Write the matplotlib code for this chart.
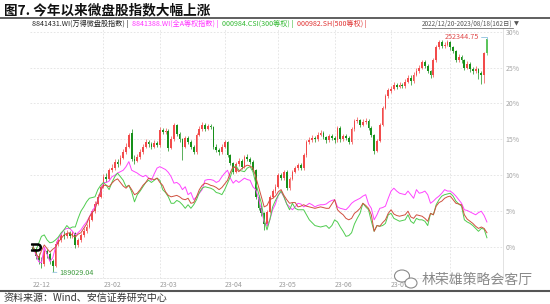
import numpy as np
import matplotlib
matplotlib.use("Agg")
import matplotlib.pyplot as plt
from matplotlib.lines import Line2D
from matplotlib.patches import Ellipse
from matplotlib.transforms import IdentityTransform

plt.rcParams['font.family'] = ['Noto Sans CJK SC', 'DejaVu Sans']

# ---- data (percent change since 2022-12-20, one value per trading day) ----
# 8841431.WI 万得微盘股指数, daily candles
opens = [0.0, -0.3, -1.2, -1.8, -2.4, -0.6, -1.0, -2.0, -2.6, 0.4,
         1.0, 1.7, 1.5, 2.0, 1.6, 1.9, 0.3, 1.0, 1.7, 2.2,
         2.8, 3.8, 5.0, 6.0, 7.0, 8.4, 9.8, 9.5, 10.7, 11.0,
         11.9, 11.6, 12.4, 13.2, 14.0, 15.9, 12.2, 12.0, 12.5, 13.2,
         14.0, 14.6, 14.3, 14.0, 14.5, 14.2, 16.3, 16.0, 16.2, 13.8,
         15.0, 17.0, 15.8, 15.0, 14.0, 15.2, 14.6, 14.0, 13.2, 15.6,
         16.4, 17.0, 16.5, 16.8, 16.7, 14.0, 13.5, 13.2, 14.0, 14.6,
         12.8, 11.7, 10.5, 11.5, 12.0, 11.2, 12.5, 12.3, 11.9, 10.7,
         7.0, 5.5, 4.7, 3.2, 4.9, 7.0, 7.8, 8.4, 10.0, 9.6,
         10.5, 8.2, 9.5, 10.5, 11.0, 11.4, 11.0, 12.8, 14.6, 14.9,
         15.2, 15.0, 15.6, 15.9, 15.3, 14.9, 15.5, 15.2, 14.9, 16.6,
         15.0, 15.4, 15.2, 14.6, 16.4, 17.6, 17.7, 17.0, 17.4, 17.6,
         16.6, 15.6, 13.4, 14.8, 17.0, 19.4, 21.0, 21.8, 22.0, 22.6,
         22.3, 22.6, 22.4, 23.0, 23.6, 23.1, 24.0, 24.5, 25.0, 25.7,
         25.2, 24.5, 23.9, 26.0, 27.8, 28.5, 28.0, 28.2, 28.5, 27.8,
         27.3, 26.0, 26.5, 26.0, 25.0, 25.5, 24.8, 24.5, 24.8, 24.3,
         23.9, 28.9]
closes = [-0.3, -1.2, -1.8, -2.4, -0.6, -1.0, -2.0, -2.6, 0.4, 1.0,
          1.7, 1.5, 2.0, 1.6, 1.9, 0.3, 1.0, 1.7, 2.2, 2.8,
          3.8, 5.0, 6.0, 7.0, 8.4, 9.8, 9.5, 10.7, 11.0, 11.9,
          11.6, 12.4, 13.2, 14.0, 15.6, 12.2, 12.0, 12.5, 13.2, 14.0,
          14.6, 14.3, 14.0, 14.5, 14.2, 16.3, 16.0, 16.2, 13.8, 15.0,
          17.0, 15.8, 15.0, 14.0, 15.2, 14.6, 14.0, 13.2, 15.6, 16.4,
          17.0, 16.5, 16.8, 16.7, 14.0, 13.5, 13.2, 14.0, 14.6, 12.8,
          11.7, 10.5, 11.5, 12.0, 11.2, 12.5, 12.3, 11.9, 10.7, 7.0,
          5.5, 4.7, 3.2, 4.9, 7.0, 7.8, 8.4, 10.0, 9.6, 10.5,
          8.2, 9.5, 10.5, 11.0, 11.4, 11.0, 12.8, 14.6, 14.9, 15.2,
          15.0, 15.6, 15.9, 15.3, 14.9, 15.5, 15.2, 14.9, 16.6, 15.0,
          15.4, 15.2, 14.6, 16.4, 17.6, 17.7, 17.0, 17.4, 17.6, 16.6,
          15.6, 13.4, 14.8, 17.0, 19.4, 21.0, 21.8, 22.0, 22.6, 22.3,
          22.6, 22.4, 23.0, 23.6, 23.1, 24.0, 24.5, 25.0, 25.7, 25.2,
          24.5, 23.9, 26.0, 27.8, 28.5, 28.0, 28.2, 28.5, 27.8, 27.3,
          26.0, 26.5, 26.0, 25.0, 25.5, 24.8, 24.5, 24.8, 24.3, 23.9,
          27.0, 27.0]
highs = [0.4, 0.0, -0.8, -1.4, -0.2, -0.2, -0.7, -1.6, 0.8, 1.4,
         2.1, 2.2, 2.4, 2.3, 2.3, 2.1, 1.3, 2.0, 2.6, 3.2,
         4.2, 5.3, 6.4, 7.4, 8.7, 10.2, 10.3, 11.0, 11.5, 12.3,
         12.2, 12.8, 13.6, 14.5, 15.9, 16.4, 12.8, 12.9, 13.6, 14.3,
         15.0, 14.9, 14.6, 14.9, 14.8, 16.7, 16.6, 16.6, 16.4, 15.4,
         17.3, 17.2, 16.0, 15.2, 15.5, 15.5, 14.9, 14.2, 15.9, 16.8,
         17.4, 17.3, 17.2, 17.1, 16.9, 14.3, 13.8, 14.3, 14.9, 14.8,
         13.0, 11.9, 11.8, 12.4, 12.2, 12.8, 12.9, 12.6, 12.1, 10.9,
         7.2, 5.8, 4.9, 5.2, 7.3, 8.1, 8.8, 10.3, 10.3, 10.8,
         10.7, 9.8, 10.8, 11.3, 11.7, 11.7, 13.1, 14.9, 15.3, 15.6,
         15.5, 16.0, 16.3, 16.1, 15.5, 15.8, 15.7, 15.4, 16.9, 16.8,
         15.7, 15.7, 15.4, 16.7, 17.9, 18.1, 17.9, 17.8, 18.0, 17.8,
         16.8, 15.8, 15.1, 17.3, 19.7, 21.3, 22.2, 22.4, 23.0, 22.9,
         23.0, 22.9, 23.4, 24.0, 23.9, 24.4, 24.9, 25.4, 26.1, 26.0,
         25.5, 24.7, 26.3, 28.1, 28.8, 28.8, 28.6, 28.8, 28.7, 28.0,
         27.5, 26.9, 26.8, 26.2, 25.9, 25.8, 25.1, 25.2, 25.0, 24.5,
         27.2, 28.9]
lows = [-0.6, -1.6, -2.3, -2.9, -2.6, -1.5, -2.4, -3.5, -2.8, 0.1,
        0.7, 1.1, 1.2, 1.2, 1.3, -0.1, 0.0, 0.7, 1.4, 1.9,
        2.6, 3.6, 4.8, 5.8, 6.8, 8.2, 9.1, 9.3, 10.4, 10.8,
        11.2, 11.4, 12.2, 13.0, 13.8, 12.0, 11.6, 11.8, 12.3, 13.0,
        13.8, 14.0, 13.6, 13.8, 13.9, 14.0, 15.7, 15.8, 13.4, 13.6,
        14.8, 15.5, 14.7, 12.1, 13.8, 14.3, 13.7, 12.9, 13.0, 15.4,
        16.2, 16.2, 16.3, 16.4, 13.7, 13.2, 12.8, 13.0, 13.8, 12.5,
        11.4, 10.2, 10.3, 11.3, 10.9, 11.0, 12.0, 11.6, 10.4, 6.7,
        5.1, 4.3, 2.4, 3.0, 4.7, 6.8, 7.6, 8.2, 9.3, 9.4,
        7.9, 8.0, 9.3, 10.3, 10.8, 10.7, 10.8, 12.6, 14.4, 14.7,
        14.7, 14.8, 15.4, 15.0, 14.5, 14.7, 14.9, 14.5, 14.7, 14.7,
        14.8, 14.9, 14.3, 14.4, 16.2, 17.3, 16.7, 16.8, 17.2, 16.3,
        15.3, 13.0, 13.2, 14.6, 16.8, 19.2, 20.8, 21.5, 21.8, 22.0,
        22.1, 22.1, 22.2, 22.8, 22.6, 22.9, 23.8, 24.3, 24.8, 24.9,
        24.2, 23.5, 23.7, 25.8, 27.6, 27.7, 27.7, 28.0, 27.5, 27.0,
        25.7, 25.8, 25.6, 24.6, 24.8, 24.4, 24.1, 24.2, 23.4, 22.7,
        22.8, 26.8]

# 8841388.WI 全A等权指数
ew_all_a = [0.0, -1.0, -2.0, -2.2, 0.0, -1.0, -2.0, -1.5, 0.0, 1.2,
            1.8, 2.4, 2.6, 2.6, 2.2, 1.7, 2.0, 2.4, 3.0, 3.5,
            4.2, 5.0, 5.6, 6.5, 7.7, 9.0, 9.0, 9.2, 9.8, 10.0,
            10.3, 10.5, 10.7, 11.2, 11.9, 10.7, 10.5, 10.3, 10.0, 9.8,
            10.0, 9.6, 9.3, 10.2, 11.0, 11.2, 11.0, 10.8, 10.4, 9.8,
            8.9, 9.0, 8.7, 8.0, 8.4, 7.3, 7.6, 6.6, 7.0, 7.5,
            8.0, 9.3, 9.4, 9.4, 9.3, 9.0, 9.2, 9.8, 10.3, 10.7,
            9.6, 8.9, 9.3, 9.0, 9.3, 9.6, 9.4, 9.3, 8.4, 8.0,
            6.8, 5.2, 3.5, 3.0, 3.8, 5.2, 6.0, 7.3, 7.7, 7.0,
            6.0, 5.6, 5.2, 5.6, 6.1, 6.0, 5.6, 5.8, 6.1, 5.9,
            5.6, 5.8, 5.9, 5.9, 6.0, 6.3, 6.5, 6.6, 5.6, 5.4,
            5.3, 5.2, 5.6, 6.1, 6.4, 6.6, 6.8, 7.1, 7.3, 6.0,
            5.4, 3.8, 4.5, 5.4, 5.5, 5.7, 6.8, 7.8, 8.2, 7.8,
            7.5, 7.4, 7.3, 7.8, 7.3, 6.8, 8.0, 7.5, 7.6, 7.8,
            7.3, 6.1, 6.4, 6.8, 7.1, 7.5, 8.0, 7.8, 7.8, 7.5,
            7.1, 6.6, 6.1, 5.2, 5.1, 4.9, 4.7, 4.5, 4.8, 5.0,
            4.4, 3.5]

# 000984.CSI 300等权
ew_300 = [0.0, -0.5, 0.5, 1.5, 1.7, 1.0, 0.6, 0.7, 1.0, 1.4,
          2.0, 2.4, 3.0, 2.6, 2.8, 2.8, 4.0, 5.0, 5.6, 6.3,
          6.8, 6.9, 7.0, 8.0, 8.6, 9.0, 8.6, 8.0, 9.0, 9.8,
          10.3, 9.8, 9.3, 8.4, 8.6, 7.7, 6.3, 7.3, 7.8, 8.4,
          9.0, 9.3, 9.0, 9.3, 9.6, 9.3, 8.0, 7.6, 7.0, 6.1,
          6.1, 6.5, 6.3, 5.9, 5.4, 5.9, 5.4, 5.9, 6.6, 7.6,
          8.2, 8.4, 8.3, 8.2, 8.0, 7.6, 7.5, 7.3, 8.0, 8.9,
          9.8, 11.0, 11.3, 10.7, 10.6, 10.5, 11.0, 11.2, 10.5, 8.9,
          7.5, 6.1, 3.8, 2.4, 3.8, 5.6, 6.5, 7.2, 7.8, 7.0,
          6.0, 5.2, 6.1, 5.4, 5.2, 5.2, 5.2, 4.5, 3.8, 3.4,
          3.0, 2.9, 2.8, 2.9, 3.0, 2.6, 3.0, 3.8, 3.5, 2.8,
          2.2, 1.5, 1.6, 2.0, 3.2, 4.0, 4.7, 6.1, 5.6, 5.2,
          3.6, 2.2, 3.0, 2.9, 3.0, 3.3, 4.5, 4.7, 4.0, 3.8,
          3.6, 3.7, 3.8, 4.5, 3.6, 3.3, 4.0, 3.8, 3.8, 3.6,
          3.0, 4.7, 4.5, 5.9, 6.6, 7.1, 7.3, 7.4, 7.5, 7.1,
          6.4, 6.0, 5.7, 3.8, 3.5, 3.3, 3.0, 2.6, 2.2, 2.6,
          2.5, 1.3]

# 000982.SH 500等权
ew_500 = [0.0, -0.8, -1.5, -0.5, 0.3, -0.2, -0.7, -0.3, 0.0, 0.7,
          1.2, 1.7, 1.9, 2.0, 1.6, 1.4, 1.8, 2.0, 2.6, 3.2,
          4.2, 4.8, 5.2, 6.6, 7.8, 8.6, 8.6, 8.4, 8.9, 9.3,
          9.5, 9.0, 8.5, 8.2, 8.6, 8.0, 7.3, 7.5, 8.0, 8.6,
          9.0, 9.6, 9.5, 9.4, 9.6, 9.0, 8.6, 7.7, 7.2, 7.0,
          7.1, 7.2, 7.0, 6.7, 6.6, 6.8, 6.1, 6.2, 7.0, 8.0,
          8.6, 8.9, 8.8, 8.6, 8.5, 8.3, 8.0, 8.3, 8.8, 9.3,
          10.4, 11.2, 11.0, 10.5, 10.9, 11.2, 11.4, 11.3, 11.0, 9.8,
          8.4, 7.0, 5.6, 5.8, 6.6, 6.8, 7.1, 7.7, 8.0, 7.2,
          6.6, 6.1, 6.2, 6.2, 5.6, 5.7, 5.9, 5.7, 5.6, 5.5,
          5.4, 5.5, 5.6, 5.5, 5.4, 5.4, 6.0, 6.6, 5.2, 4.8,
          4.5, 4.0, 3.8, 4.0, 4.7, 5.0, 5.4, 6.1, 5.8, 5.4,
          4.5, 2.2, 3.0, 2.9, 3.4, 3.8, 4.7, 5.2, 4.6, 4.4,
          4.3, 4.4, 4.5, 5.0, 4.2, 4.0, 4.5, 4.4, 4.3, 4.0,
          3.6, 4.7, 4.5, 5.7, 6.2, 6.4, 6.8, 7.0, 7.1, 6.6,
          6.1, 6.0, 5.9, 4.5, 3.9, 3.6, 3.3, 2.9, 2.6, 2.8,
          2.6, 2.0]

legend_names = ["8841431.WI(万得微盘股指数)", "8841388.WI(全A等权指数)",
                "000984.CSI(300等权)", "000982.SH(500等权)"]
month_labels = ["22-12", "23-02", "23-03", "23-04", "23-05", "23-06", "23-07"]
month_label_pos = [0, 25, 45, 68, 87, 107, 127]      # trading-day index
month_grid_pos = [25, 45, 68, 87, 107, 127, 148]
y_ticks = [0, 5, 10, 15, 20, 25, 30]
max_label = "252344.75"
min_label = "189029.04"
date_range = "2022/12/20-2023/08/18(162日)"

# ---- colours ----
c_up, c_down = "#f24b4b", "#17901a"
c_all_a, c_300, c_500 = "#ff44ff", "#4fcc4f", "#d0503f"
legend_colors = ["#222222", "#ff33ff", "#2fb82f", "#e03030"]

W, H = 550, 304
def fx(px):
    return px / W
def fy(py):
    return 1 - py / H

fig = plt.figure(figsize=(5.5, 3.04), dpi=100)
fig.patch.set_facecolor("white")

ax = fig.add_axes([fx(30), fy(278), fx(503) - fx(30), fy(28) - fy(278)])
x = np.arange(len(closes))
o = np.array(opens); c = np.array(closes)
hi = np.array(highs); lo = np.array(lows)
up = c >= o
cols = np.where(up, c_up, c_down)
cols[-1] = "#5cc45c"   # last (intraday) candle drawn lighter in the source

# grid
for g in month_grid_pos:
    ax.axvline(g, color="#e2e2e2", lw=0.6, ls=(0, (2, 2)), zorder=0)
ax.set_yticks(y_ticks)
ax.yaxis.grid(True, color="#e2e2e2", lw=0.6, ls=(0, (2, 2)))
ax.set_axisbelow(True)

# candles
ax.vlines(x, lo, hi, colors=cols, lw=0.5, zorder=2)
ax.bar(x, np.maximum(np.abs(c - o), 0.08), bottom=np.minimum(o, c), width=0.62,
       color=cols, linewidth=0, zorder=2)

# comparison lines
ax.plot(x, ew_all_a, color=c_all_a, lw=0.7, zorder=3)
ax.plot(x, ew_300, color=c_300, lw=0.7, zorder=3)
ax.plot(x, ew_500, color=c_500, lw=0.7, zorder=3)

# start marker
ax.plot(x[0] + 1, ew_500[0], marker=r"$\supset$", color="black", ms=7, zorder=5)

# max / min labels
imax = int(np.argmax(hi)); imin = int(np.argmin(lo))
ax.annotate(max_label, xy=(x[imax], hi[imax]), xytext=(-6, 2), textcoords="offset points",
            ha="right", va="center", fontsize=5.2, color="#e04a4a",
            arrowprops=dict(arrowstyle="-", color="#8cc0de", lw=0.6, shrinkA=0, shrinkB=0,
                            connectionstyle="angle,angleA=0,angleB=90,rad=0"))
ax.annotate(min_label, xy=(x[imin], lo[imin]), xytext=(5, -0.5), textcoords="offset points",
            ha="left", va="center", fontsize=5.2, color="#3d9a3d",
            arrowprops=dict(arrowstyle="-", color="#8cc0de", lw=0.6, shrinkA=0, shrinkB=0))

ax.set_xlim(-1.06, 166.7)
ax.set_ylim(-4.3, 30.5)
ax.set_xticks(month_label_pos)
ax.set_xticklabels(month_labels, ha="left")
ax.yaxis.tick_right()
ax.set_yticklabels([f"{v}%" for v in y_ticks])
ax.tick_params(axis="x", length=0, pad=2.5, labelsize=5, labelcolor="#9a9a9a")
ax.tick_params(axis="y", length=0, pad=2, labelsize=5, labelcolor="#a5a5a5")
for s in ["top", "left"]:
    ax.spines[s].set_visible(False)
ax.spines["right"].set_color("#dddddd")
ax.spines["right"].set_linewidth(0.6)
ax.spines["bottom"].set_color("#e2e2e2")
ax.spines["bottom"].set_linewidth(0.6)
ax.spines["bottom"].set_linestyle((0, (2, 2)))

# title and rules
fig.text(fx(4), fy(10), "图7. 今年以来微盘股指数大幅上涨", fontsize=9.8,
         fontweight="bold", va="center", color="#111111")
fig.add_artist(Line2D([0, 1], [fy(17.5)] * 2, color="#444444", lw=1.2))
fig.add_artist(Line2D([0, 1], [fy(291)] * 2, color="#555555", lw=1.5))

# legend row
renderer = fig.canvas.get_renderer()
lx = fx(32)
for name, col in zip(legend_names, legend_colors):
    t = fig.text(lx, fy(23.5), name + " | ", color=col, fontsize=5.1, va="center")
    bb = t.get_window_extent(renderer)
    lx = (bb.x1 + 2) / W

dt = fig.text(fx(422), fy(23.5), date_range, color="#555555", fontsize=4.6, va="center")
bb = dt.get_window_extent(renderer)
fig.add_artist(Line2D([bb.x0 / W, bb.x1 / W], [(bb.y0 - 0.5) / H] * 2, color="#555555", lw=0.5))
fig.text((bb.x1 + 1) / W, fy(23.5), "▼", color="#555555", fontsize=4.6, va="center",
         family=["DejaVu Sans"])

# source
fig.text(fx(4), fy(298), "资料来源：Wind、安信证券研究中心", fontsize=7.2, va="center",
         color="#333333")

# watermark
fig.add_artist(Ellipse((402, H - 276), 15, 12, transform=IdentityTransform(),
                       facecolor="white", edgecolor="#8a8a8a", lw=0.8, zorder=10))
fig.add_artist(Ellipse((411, H - 283), 12, 10, transform=IdentityTransform(),
                       facecolor="white", edgecolor="#8a8a8a", lw=0.8, zorder=11))
fig.text(fx(422), fy(280), "林荣雄策略会客厅", fontsize=10, va="center", color="#8a8a8a",
         zorder=12)

fig.savefig("out.png", dpi=100)
